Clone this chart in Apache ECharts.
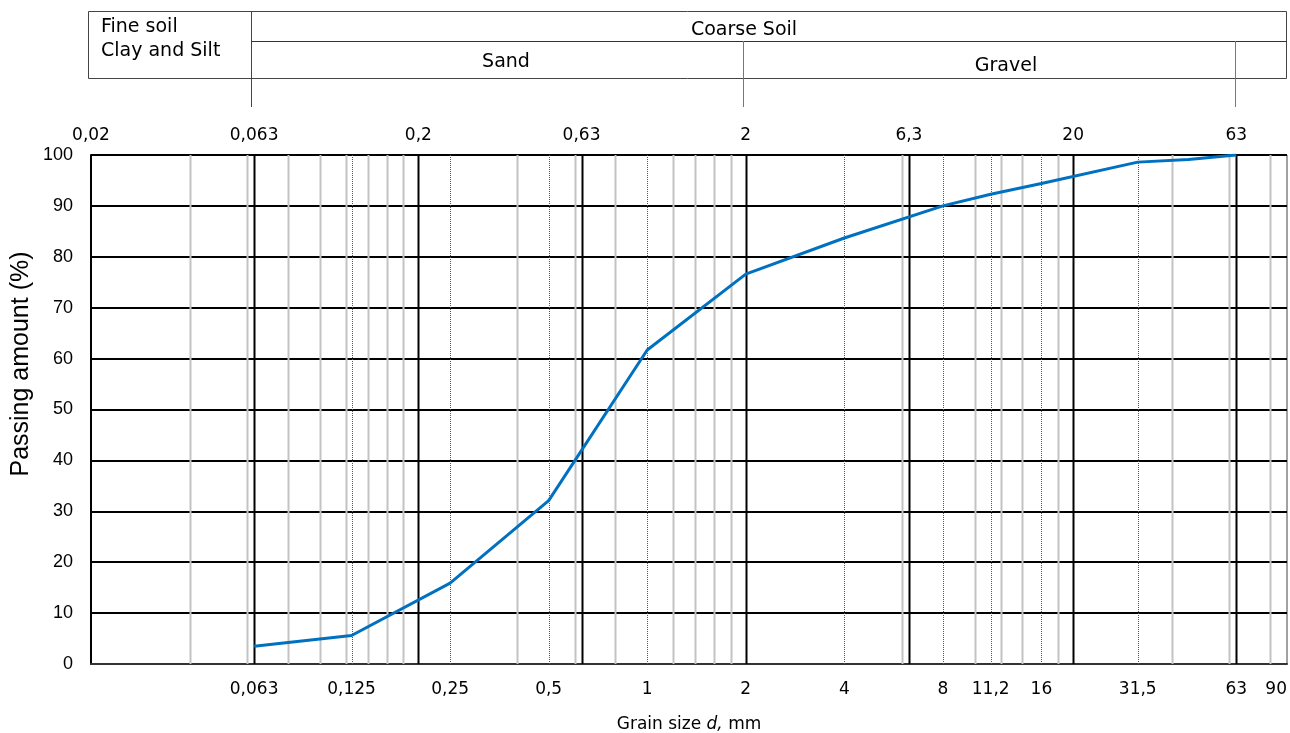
<!DOCTYPE html>
<html>
<head>
<meta charset="utf-8">
<script src="https://cdn.jsdelivr.net/npm/echarts@6/dist/echarts.min.js"></script>
<style>html,body{margin:0;padding:0;background:#fff;}#c{width:1290px;height:733px;}</style>
</head>
<body>
<div id="c"></div>
<script>
// ---- data ----
const grainSizes = [0.063, 0.125, 0.25, 0.5, 1, 2, 4, 8, 11.2, 16, 31.5, 45, 63];
const passing    = [3.5, 5.6, 15.9, 32.1, 61.7, 76.6, 83.7, 90.0, 92.3, 94.4, 98.6, 99.1, 100];
const topTicks    = [0.02, 0.063, 0.2, 0.63, 2, 6.3, 20, 63];
const bottomTicks = [0.063, 0.125, 0.25, 0.5, 1, 2, 4, 8, 11.2, 16, 31.5, 63, 90];
const majorLines  = [0.063, 0.2, 0.63, 2, 6.3, 20, 63];
const minorLines  = [0.04, 0.06, 0.08, 0.1, 0.12, 0.14, 0.16, 0.18, 0.4, 0.6, 0.8, 1.2, 1.4, 1.6, 1.8, 6, 10, 12, 14, 18, 40, 60, 80];
const sieveLines  = [0.125, 0.25, 0.5, 1, 4, 8, 11.2, 16, 31.5];
const xMin = 0.02, xMax = 90;

function fmtTick(list) {
  return function (v) {
    let best = list[0], bd = Infinity;
    list.forEach(t => { const d = Math.abs(Math.log(v / t)); if (d < bd) { bd = d; best = t; } });
    return String(best).replace('.', ',');
  };
}
function gridSeries(values, style, z) {
  return {
    type: 'custom', xAxisIndex: 0, yAxisIndex: 0, silent: true, z: z,
    data: values.map(v => [v, 0]),
    renderItem: function (params, api) {
      const a = api.coord([api.value(0), 100]);
      const b = api.coord([api.value(0), 0]);
      return { type: 'line', shape: { x1: Math.round(a[0]) + 0.5, y1: a[1], x2: Math.round(b[0]) + 0.5, y2: b[1] }, style: style };
    }
  };
}

const chart = echarts.init(document.getElementById('c'), null, { renderer: 'canvas' });
const xf = '"DejaVu Sans", Verdana, sans-serif';
const af = '"Liberation Sans", Arial, sans-serif';
chart.setOption({
  animation: false,
  backgroundColor: '#fff',
  grid: { left: 91, right: 3, top: 155, bottom: 69, show: true, borderColor: '#444', borderWidth: 1, outerBoundsMode: 'none', containLabel: false },
  xAxis: [
    {
      type: 'log', min: xMin, max: xMax, position: 'bottom',
      axisLine: { show: true, lineStyle: { color: '#333', width: 2 } },
      axisTick: { show: false }, splitLine: { show: false }, minorSplitLine: { show: false },
      axisLabel: { customValues: bottomTicks, formatter: fmtTick(bottomTicks), fontFamily: xf, fontSize: 17, color: '#000', margin: 17, showMinLabel: true, showMaxLabel: true, alignMaxLabel: 'right' },
      name: '{a|Grain size }{i|d,}{a| mm}', nameLocation: 'middle', nameGap: 52,
      nameTextStyle: { rich: { a: { fontFamily: xf, fontSize: 17, color: '#000' }, i: { fontFamily: xf, fontSize: 17, fontStyle: 'italic', color: '#000' } } }
    },
    {
      type: 'log', min: xMin, max: xMax, position: 'top',
      axisLine: { show: false }, axisTick: { show: false }, splitLine: { show: false },
      axisLabel: { customValues: topTicks, formatter: fmtTick(topTicks), fontFamily: xf, fontSize: 17, color: '#000', margin: 11, showMinLabel: true, showMaxLabel: true }
    }
  ],
  yAxis: {
    type: 'value', min: 0, max: 100, interval: 10,
    axisLine: { show: true, lineStyle: { color: '#000', width: 2 } },
    axisTick: { show: false },
    splitLine: { show: true, lineStyle: { color: '#000', width: 2 } },
    axisLabel: { fontFamily: af, fontSize: 18, color: '#000', margin: 18 }
  },
  series: [
    gridSeries(minorLines, { stroke: '#c3c3c3', lineWidth: 2 }, 1),
    gridSeries(sieveLines, { stroke: '#555', lineWidth: 1, lineDash: [1, 1] }, 2),
    gridSeries(majorLines, { stroke: '#000', lineWidth: 2 }, 3),
    {
      type: 'line', z: 10, xAxisIndex: 0, yAxisIndex: 0,
      data: grainSizes.map((d, i) => [d, passing[i]]),
      showSymbol: false, symbol: 'none', smooth: false,
      lineStyle: { color: '#0070C0', width: 3 }
    }
  ],
  graphic: [
    { type: 'rect', shape: { x: 88.5, y: 11.5, width: 1198, height: 67 }, style: { fill: 'none', stroke: '#444', lineWidth: 1 }, silent: true },
    { type: 'line', shape: { x1: 251.5, y1: 11, x2: 251.5, y2: 107 }, style: { stroke: '#444', lineWidth: 1 }, silent: true },
    { type: 'line', shape: { x1: 251, y1: 41.5, x2: 1287, y2: 41.5 }, style: { stroke: '#333', lineWidth: 1 }, silent: true },
    { type: 'line', shape: { x1: 743.5, y1: 41, x2: 743.5, y2: 107 }, style: { stroke: '#777', lineWidth: 1 }, silent: true },
    { type: 'line', shape: { x1: 1235.5, y1: 41, x2: 1235.5, y2: 107 }, style: { stroke: '#777', lineWidth: 1 }, silent: true },
    { type: 'text', left: 101, top: 18, style: { text: 'Fine soil', font: '19px ' + xf, fill: '#000' }, silent: true },
    { type: 'text', left: 101, top: 42, style: { text: 'Clay and Silt', font: '19px ' + xf, fill: '#000' }, silent: true },
    { type: 'text', x: 744, y: 30, style: { text: 'Coarse Soil', font: '19px ' + xf, fill: '#000', align: 'center', verticalAlign: 'middle' }, silent: true },
    { type: 'text', x: 506, y: 62, style: { text: 'Sand', font: '19px ' + xf, fill: '#000', align: 'center', verticalAlign: 'middle' }, silent: true },
    { type: 'text', x: 1006, y: 66, style: { text: 'Gravel', font: '19px ' + xf, fill: '#000', align: 'center', verticalAlign: 'middle' }, silent: true },
    { type: 'text', x: 21, y: 364, rotation: Math.PI / 2, style: { text: 'Passing amount (%)', font: '25px ' + af, fill: '#000', align: 'center', verticalAlign: 'middle' }, silent: true }
  ]
});
</script>
</body>
</html>
